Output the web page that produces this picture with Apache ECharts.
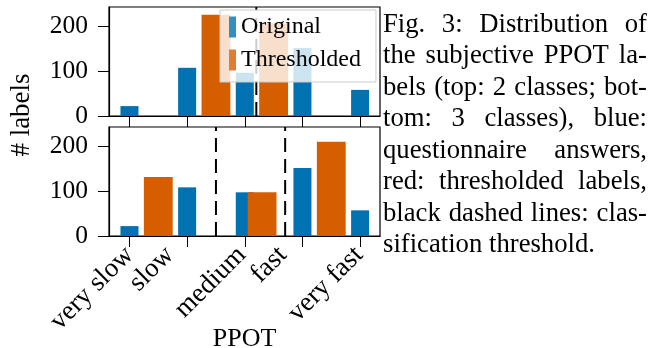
<!DOCTYPE html>
<html>
<head>
<meta charset="utf-8">
<script src="https://cdn.jsdelivr.net/npm/echarts@6/dist/echarts.min.js"></script>
<style>
html,body{margin:0;padding:0;background:#fff;}
#chart{width:657px;height:348px;}
</style>
</head>
<body>
<div id="chart"></div>
<script>
// ---- data ----
const categories = ['very slow', 'slow', 'medium', 'fast', 'very fast'];
const categoryPositions = [1, 2, 3, 4, 5];
// where each category label sits along the axis in the reference
const categoryLabelPositions = [1, 1.7, 2.95, 3.66, 4.98];
const yTicks = [0, 100, 200];
const topOriginal = [22, 107, 96, 151, 58];
const topThresholdedPositions = [2.5, 3.5];
const topThresholded = [225, 206];
const topThresholds = [3.2];
const bottomOriginal = [22, 108, 97, 151, 57];
const bottomThresholdedPositions = [1.5, 3.3, 4.5];
const bottomThresholded = [131, 97, 209];
const bottomThresholds = [2.5, 3.7];
const captionLines = [
  'Fig. 3: Distribution of',
  'the subjective PPOT la-',
  'bels (top: 2 classes; bot-',
  'tom: 3 classes), blue:',
  'questionnaire answers,',
  'red: thresholded labels,',
  'black dashed lines: clas-',
  'sification threshold.'
];

const BLUE = '#0072B2', ORANGE = '#D55E00';
const FONT = '"Liberation Serif", "Times New Roman", serif';
const Y_MAX = 242, X_MIN = 0.645, X_MAX = 5.345;

function zip(xs, ys) { return xs.map((x, i) => [x, ys[i]]); }

function barRender(widthUnits) {
  return function (params, api) {
    const x = api.value(0), y = api.value(1);
    const p0 = api.coord([x - widthUnits / 2, 0]);
    const p1 = api.coord([x + widthUnits / 2, y]);
    return {
      type: 'rect',
      shape: { x: p0[0], y: p1[1], width: p1[0] - p0[0], height: p0[1] - p1[1] },
      style: { fill: api.visual('color') }
    };
  };
}

function thresholdSeries(xs, axisIndex) {
  return xs.map(t => ({
    type: 'line', name: 'threshold', xAxisIndex: axisIndex, yAxisIndex: axisIndex,
    data: [[t, 0], [t, Y_MAX]], symbol: 'none', silent: true, z: 3,
    lineStyle: { color: '#000', width: 2, type: [14, 7] }
  }));
}

function labelFor(v) {
  let best = 0;
  categoryLabelPositions.forEach((p, i) => { if (Math.abs(p - v) < Math.abs(categoryLabelPositions[best] - v)) best = i; });
  return categories[best];
}

function xAxis(gridIndex, showLabels) {
  return {
    type: 'value', gridIndex, min: X_MIN, max: X_MAX,
    axisLine: { show: true, lineStyle: { color: '#000', width: 1.2 } },
    splitLine: { show: false },
    axisTick: { show: true, length: 11, inside: false, customValues: categoryPositions, lineStyle: { color: '#000' } },
    axisLabel: {
      show: showLabels, customValues: categoryLabelPositions, rotate: 45, margin: 15,
      fontFamily: FONT, fontSize: 27, color: '#000',
      formatter: labelFor
    },
    name: showLabels ? 'PPOT' : '', nameLocation: 'middle', nameGap: 90, nameMoveOverlap: false,
    nameTextStyle: { fontFamily: FONT, fontSize: 26, color: '#000' }
  };
}

function yAxis(gridIndex) {
  return {
    type: 'value', gridIndex, min: 0, max: Y_MAX,
    axisLine: { show: true, lineStyle: { color: '#000', width: 1.2 } },
    splitLine: { show: false },
    axisTick: { show: true, length: 11, customValues: yTicks, lineStyle: { color: '#000' } },
    axisLabel: { customValues: yTicks, margin: 21, fontFamily: FONT, fontSize: 25.5, color: '#000' }
  };
}

// justified caption
const ctx = document.createElement('canvas').getContext('2d');
const CAP_FONT = '26.7px ' + FONT;
ctx.font = CAP_FONT;
const capLeft = 383, capRight = 647, capTop = 24.5, capStep = 31.5;
const captionGraphics = [];
captionLines.forEach((line, li) => {
  const words = line.split(' ');
  const widths = words.map(w => ctx.measureText(w).width);
  const total = widths.reduce((a, b) => a + b, 0);
  const justify = li < captionLines.length - 1 && words.length > 1;
  const gap = justify ? (capRight - capLeft - total) / (words.length - 1) : ctx.measureText(' ').width;
  let x = capLeft;
  words.forEach((w, wi) => {
    captionGraphics.push({
      type: 'text', x: x, y: capTop + li * capStep,
      style: { text: w, font: CAP_FONT, fill: '#000', verticalAlign: 'middle' }
    });
    x += widths[wi] + gap;
  });
});

const gridBase = { left: 109, width: 271, height: 109, show: true, borderColor: '#000', borderWidth: 1.2,
  backgroundColor: 'transparent', containLabel: false, outerBoundsMode: 'none' };

const chart = echarts.init(document.getElementById('chart'), null, { renderer: 'canvas' });
chart.setOption({
  animation: false,
  backgroundColor: '#fff',
  grid: [
    Object.assign({ top: 7 }, gridBase),
    Object.assign({ top: 127 }, gridBase)
  ],
  xAxis: [xAxis(0, false), xAxis(1, true)],
  yAxis: [yAxis(0), yAxis(1)],
  legend: {
    orient: 'vertical', left: 220, top: 10,
    padding: [5, 15, 10, 9], itemGap: 9, itemWidth: 7, itemHeight: 21,
    backgroundColor: 'rgba(255,255,255,0.8)', borderColor: '#cccccc', borderWidth: 1, borderRadius: 0,
    z: 10,
    textStyle: { fontFamily: FONT, fontSize: 24, color: '#000', lineHeight: 24 },
    data: [
      { name: 'Original', icon: 'rect', itemStyle: { color: '#338ec1' } },
      { name: 'Thresholded', icon: 'rect', itemStyle: { color: '#dd7e33' } }
    ]
  },
  graphic: [
    {
      type: 'text', x: 22, y: 115, rotation: Math.PI / 2,
      style: { text: '# labels', font: '27px ' + FONT, fill: '#000', align: 'center', verticalAlign: 'middle' }
    }
  ].concat(captionGraphics),
  series: [
    { type: 'custom', name: 'Original', xAxisIndex: 0, yAxisIndex: 0, itemStyle: { color: BLUE },
      renderItem: barRender(0.3125), encode: { x: 0, y: 1 }, data: zip(categoryPositions, topOriginal), z: 2 },
    { type: 'custom', name: 'Thresholded', xAxisIndex: 0, yAxisIndex: 0, itemStyle: { color: ORANGE },
      renderItem: barRender(0.5), encode: { x: 0, y: 1 }, data: zip(topThresholdedPositions, topThresholded), z: 2 },
    { type: 'custom', name: 'Original', xAxisIndex: 1, yAxisIndex: 1, itemStyle: { color: BLUE },
      renderItem: barRender(0.3125), encode: { x: 0, y: 1 }, data: zip(categoryPositions, bottomOriginal), z: 2 },
    { type: 'custom', name: 'Thresholded', xAxisIndex: 1, yAxisIndex: 1, itemStyle: { color: ORANGE },
      renderItem: barRender(0.5), encode: { x: 0, y: 1 }, data: zip(bottomThresholdedPositions, bottomThresholded), z: 2 }
  ].concat(thresholdSeries(topThresholds, 0), thresholdSeries(bottomThresholds, 1))
});
</script>
</body>
</html>
